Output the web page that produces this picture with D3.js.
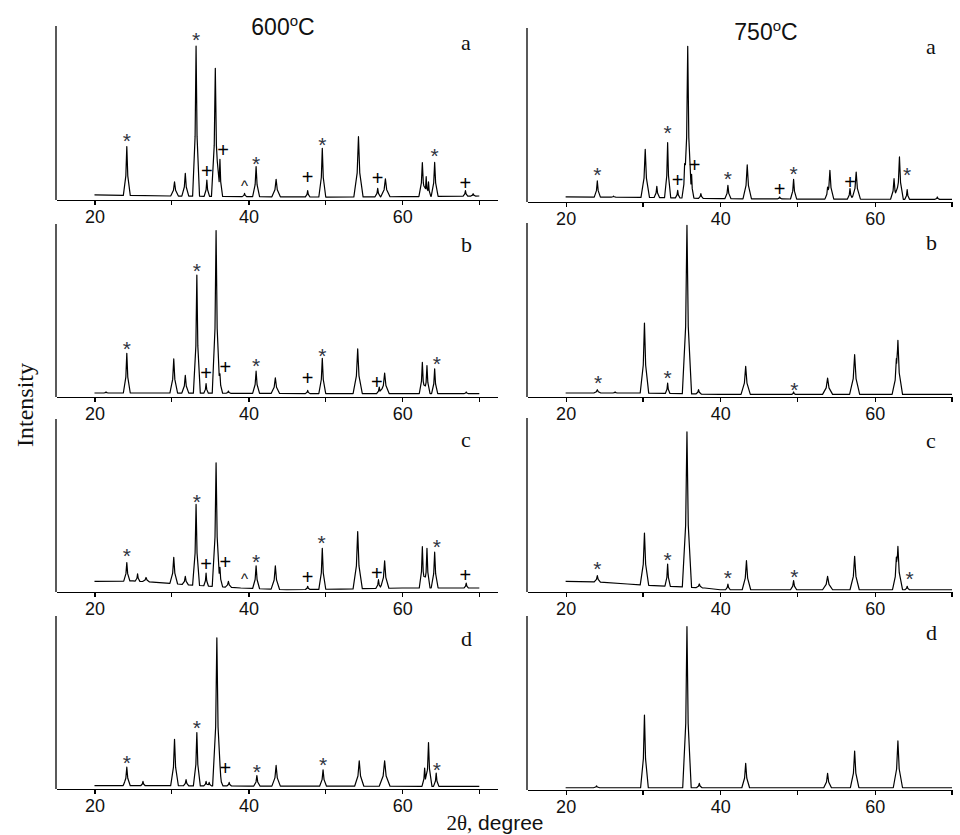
<!DOCTYPE html>
<html>
<head>
<meta charset="utf-8">
<script src="https://cdn.jsdelivr.net/npm/d3@7"></script>
<style>
  body { margin: 0; background: #fff; }
  svg { display: block; }
  .axis path, .axis line { stroke: #000; stroke-width: 1.2; shape-rendering: crispEdges; }
  .axis text { font-family: Arial, "Liberation Sans", sans-serif; font-size: 18px; fill: #111; }
  .trace { fill: none; stroke: #000; stroke-width: 1.2; stroke-linejoin: round; }
</style>
</head>
<body>
<svg id="chart" width="960" height="835"></svg>
<script>
// ---- data ----
const temps = ["600", "750"];
const samples = ["a", "b", "c", "d"];
const majorTicks = [20, 40, 60];
const minorTicks = [30, 50, 70];

// background level: [2θ, intensity %]
const bg600a = [[20, 2.9], [30, 2.3], [40, 1.9], [50, 1.7], [60, 1.9], [70, 2.3]];
const bg600b = [[20, 2.3], [30, 2.3], [40, 2.1], [50, 1.9], [70, 1.9]];
const bg600c = [[20, 6.1], [25, 6.4], [28, 5.6], [32, 4.2], [39, 2.3], [45, 1.3], [52, 1.7], [60, 2.3], [70, 2.3]];
const bg600d = [[20, 1.9], [30, 1.9], [40, 1.7], [70, 1.5]];
const bg750a = [[20, 2.9], [30, 2.7], [40, 1.9], [50, 1.7], [70, 1.5]];
const bg750b = [[20, 2.3], [30, 2.3], [40, 1.5], [70, 1.5]];
const bg750c = [[20, 6.1], [24, 5.8], [28, 4.6], [30, 4.0], [38, 2.3], [40, 1.3], [70, 1.3]];
const bg750d = [[20, 1.3], [70, 1.3]];

// peaks: [2θ, apex intensity %, half base width in degrees]
const pk600a = [[24.2, 30.7, 0.45], [30.4, 10.5, 0.5], [31.8, 15.3, 0.45], [33.2, 88.5, 0.45], [34.6, 11.5, 0.35],
  [35.7, 75.7, 0.5], [36.3, 23.4, 0.35], [39.5, 3.8, 0.3], [41.0, 19.2, 0.45], [43.6, 11.9, 0.55],
  [47.7, 5.4, 0.3], [49.6, 29.7, 0.45], [54.3, 36.4, 0.6], [56.8, 6.7, 0.35], [57.8, 12.1, 0.6],
  [62.6, 21.5, 0.45], [63.1, 13.4, 0.3], [63.4, 10.5, 0.3], [64.2, 21.6, 0.45], [68.2, 5.4, 0.3], [69.2, 3.6, 0.3]];
const pk600b = [[21.5, 2.9, 0.3], [24.2, 25.3, 0.45], [30.3, 22.0, 0.5], [31.8, 12.5, 0.45], [33.3, 70.5, 0.45],
  [34.5, 7.7, 0.3], [35.8, 96.2, 0.5], [36.3, 13.4, 0.35], [37.4, 3.4, 0.3], [41.0, 14.9, 0.45],
  [43.5, 11.1, 0.55], [47.7, 3.8, 0.3], [49.6, 22.4, 0.45], [54.2, 27.8, 0.6], [57.0, 5.7, 0.35],
  [57.7, 13.8, 0.6], [62.6, 20.1, 0.4], [63.2, 18.2, 0.4], [64.2, 16.3, 0.4], [68.3, 2.9, 0.3]];
const pk600c = [[24.2, 17.0, 0.4], [25.6, 10.5, 0.3], [26.7, 8.4, 0.45], [30.3, 20.1, 0.5], [31.8, 9.0, 0.4],
  [33.2, 50.6, 0.45], [34.5, 10.9, 0.3], [35.8, 74.7, 0.5], [36.3, 14.2, 0.35], [37.4, 6.1, 0.4],
  [41.0, 15.1, 0.45], [43.5, 15.1, 0.55], [47.7, 3.3, 0.3], [49.6, 25.3, 0.45], [54.2, 34.9, 0.6],
  [56.9, 7.1, 0.35], [57.7, 18.0, 0.55], [62.6, 26.2, 0.4], [63.2, 25.3, 0.4], [64.2, 23.0, 0.45], [68.3, 5.2, 0.3]];
const pk600d = [[24.0, 5.0, 0.3], [24.2, 12.6, 0.45], [26.3, 4.4, 0.3], [30.4, 28.7, 0.5], [31.9, 5.4, 0.35],
  [33.3, 32.6, 0.45], [34.5, 4.4, 0.3], [34.9, 3.8, 0.3], [35.9, 87.4, 0.55], [36.4, 7.3, 0.3],
  [37.5, 3.8, 0.3], [41.1, 7.7, 0.4], [43.6, 13.6, 0.55], [49.7, 11.1, 0.45], [54.4, 16.3, 0.6],
  [57.7, 16.3, 0.7], [62.9, 12.1, 0.35], [63.4, 26.8, 0.45], [64.4, 9.2, 0.35]];
const pk750a = [[24.1, 12.1, 0.4], [26.2, 3.4, 0.3], [30.3, 30.3, 0.55], [31.8, 9.0, 0.35], [33.2, 34.1, 0.4],
  [34.5, 6.7, 0.3], [35.4, 22.0, 0.35], [35.8, 89.5, 0.5], [36.3, 15.9, 0.3], [37.5, 4.8, 0.3],
  [41.0, 9.6, 0.4], [43.5, 21.3, 0.55], [47.7, 2.9, 0.3], [49.5, 13.0, 0.4], [53.9, 8.6, 0.35],
  [54.2, 18.2, 0.5], [56.8, 7.7, 0.35], [57.6, 17.2, 0.55], [62.5, 13.4, 0.45], [63.2, 25.9, 0.5],
  [64.2, 7.1, 0.3], [68.1, 2.9, 0.3]];
const pk750b = [[24.1, 4.2, 0.45], [26.4, 2.9, 0.3], [30.2, 42.5, 0.55], [33.2, 8.0, 0.3], [35.7, 98.7, 0.6],
  [37.2, 4.2, 0.35], [43.3, 17.6, 0.6], [49.5, 2.9, 0.25], [53.9, 10.9, 0.65], [57.4, 24.3, 0.65],
  [62.8, 22.0, 0.55], [63.0, 32.6, 0.6]];
const pk750c = [[24.1, 9.4, 0.4], [30.2, 33.9, 0.55], [33.2, 16.1, 0.35], [35.7, 92.0, 0.6], [37.3, 4.6, 0.4],
  [41.0, 4.6, 0.3], [43.4, 18.0, 0.55], [49.5, 6.5, 0.4], [53.9, 9.0, 0.65], [57.4, 20.5, 0.6],
  [62.8, 20.0, 0.5], [63.0, 26.2, 0.6], [64.2, 3.3, 0.3]];
const pk750d = [[24.0, 2.3, 0.4], [30.2, 43.1, 0.5], [35.7, 93.9, 0.55], [37.3, 3.8, 0.35], [43.3, 15.3, 0.5],
  [53.9, 9.6, 0.5], [57.4, 22.4, 0.55], [63.0, 28.2, 0.6]];

// phase markers: [2θ, symbol, height %]
const mk600a = [[24.2, "*", 37], [33.2, "*", 95], [34.6, "+", 17], [36.7, "+", 29], [39.5, "^", 9.5],
  [41.0, "*", 23.5], [47.7, "+", 13.5], [49.6, "*", 34.5], [56.8, "+", 12.5], [64.2, "*", 28], [68.2, "+", 10]];
const mk600b = [[24.2, "*", 30.7], [33.3, "*", 75.7], [34.5, "+", 13.8], [37.0, "+", 17.2], [41.0, "*", 20.7],
  [47.7, "+", 10.9], [49.6, "*", 26.8], [56.7, "+", 9.0], [64.5, "*", 22.0]];
const mk600c = [[24.2, "*", 23.4], [33.3, "*", 55.0], [34.5, "+", 16.1], [37.0, "+", 17.2], [39.5, "^", 9.0],
  [41.0, "*", 20.5], [47.7, "+", 9.0], [49.5, "*", 31.0], [56.7, "+", 10.9], [64.5, "*", 29.1], [68.2, "+", 10.0]];
const mk600d = [[24.2, "*", 17.8], [33.3, "*", 38.3], [37.0, "+", 12.5], [41.1, "*", 12.5], [49.7, "*", 16.5],
  [64.5, "*", 14.0]];
const mk750a = [[24.1, "*", 18.6], [33.2, "*", 42.5], [34.5, "+", 12.5], [36.7, "+", 21.5], [41.0, "*", 15.9],
  [47.7, "+", 7.7], [49.5, "*", 19.2], [56.8, "+", 11.5], [64.2, "*", 18.6]];
const mk750b = [[24.2, "*", 10.9], [33.2, "*", 13.8], [49.6, "*", 6.7]];
const mk750c = [[24.1, "*", 16.1], [33.2, "*", 21.5], [41.0, "*", 10.9], [49.6, "*", 11.5], [64.5, "*", 10.3]];
const mk750d = [];

const backgrounds = [[bg600a, bg600b, bg600c, bg600d], [bg750a, bg750b, bg750c, bg750d]];
const peakSets = [[pk600a, pk600b, pk600c, pk600d], [pk750a, pk750b, pk750c, pk750d]];
const markerSets = [[mk600a, mk600b, mk600c, mk600d], [mk750a, mk750b, mk750c, mk750d]];

// ---- layout ----
const colRange = [[56, 497], [527, 952]];
const colDomain = [[15, 72.3], [15, 70]];
const rowTop = [[26, 224, 419, 616], [28, 223, 418, 616]];
const rowBase = [[200, 397, 592, 789], [202, 397, 592, 790]];
const labelX = [461, 926];
const labelY = [[50, 252, 447, 646], [54, 250, 448, 640]];

const svg = d3.select("#chart");

// peak drawn as a narrow spike: feet at ±w, flank point at ±0.28w / 40% height
function peakAt(p, t, bgf) {
  const [c, h, w] = p;
  const d = Math.abs(t - c);
  if (d >= w) return -Infinity;
  const b = bgf(c);
  const s = 0.28 * w, mid = b + 0.4 * (h - b);
  if (d <= s) return h + (mid - h) * (d / s);
  return mid + (bgf(t) - mid) * ((d - s) / (w - s));
}

function tracePoints(bg, peaks) {
  const bgf = d3.scaleLinear().domain(bg.map(d => d[0])).range(bg.map(d => d[1])).clamp(true);
  let ts = bg.map(d => d[0]);
  peaks.forEach(([c, , w]) => { ts.push(c - w, c - 0.28 * w, c, c + 0.28 * w, c + w); });
  ts = Array.from(new Set(ts.map(t => +t.toFixed(4)))).filter(t => t >= 20 && t <= 70).sort((a, b) => a - b);
  return ts.map(t => [t, Math.max(bgf(t), d3.max(peaks, p => peakAt(p, t, bgf)))]);
}

const markStyle = {
  "*": { size: 21, weight: "normal", k: 0.57, color: "#2f3340" },
  "+": { size: 20, weight: "normal", k: 0.36, color: "#000" },
  "^": { size: 15, weight: "normal", k: 0.52, color: "#111" }
};

temps.forEach((temp, ci) => {
  samples.forEach((lab, ri) => {
    const x = d3.scaleLinear().domain(colDomain[ci]).range(colRange[ci]);
    const y = d3.scaleLinear().domain([0, 100]).range([rowBase[ci][ri], rowTop[ci][ri]]);
    const g = svg.append("g");

    // x axis: labelled major ticks, unlabelled minor ticks
    const ax = g.append("g").attr("class", "axis")
      .attr("transform", `translate(0,${rowBase[ci][ri]})`)
      .call(d3.axisBottom(x).tickValues(majorTicks).tickSize(5).tickPadding(5).tickSizeOuter(0));
    ax.selectAll(".minor").data(minorTicks.filter(t => t <= colDomain[ci][1]))
      .join("line").attr("class", "minor")
      .attr("x1", d => x(d)).attr("x2", d => x(d)).attr("y1", 0).attr("y2", 5);

    // y axis: bare line
    g.append("line").attr("class", "axis-line")
      .attr("x1", colRange[ci][0]).attr("x2", colRange[ci][0])
      .attr("y1", y(100)).attr("y2", y(0))
      .attr("stroke", "#000").attr("stroke-width", 1.3);

    const pts = tracePoints(backgrounds[ci][ri], peakSets[ci][ri]);
    g.append("path").attr("class", "trace")
      .attr("d", d3.line().x(d => x(d[0])).y(d => y(d[1]))(pts));

    g.selectAll(".mk").data(markerSets[ci][ri]).join("text")
      .attr("class", "mk")
      .attr("x", d => x(d[0]))
      .attr("y", d => y(d[2]) + markStyle[d[1]].k * markStyle[d[1]].size)
      .attr("text-anchor", "middle")
      .attr("font-family", "Arial, 'Liberation Sans', sans-serif")
      .attr("font-size", d => markStyle[d[1]].size)
      .attr("font-weight", d => markStyle[d[1]].weight)
      .attr("fill", d => markStyle[d[1]].color)
      .text(d => d[1]);

    g.append("text")
      .attr("x", labelX[ci]).attr("y", labelY[ci][ri])
      .attr("font-family", "'Liberation Serif', 'Times New Roman', serif")
      .attr("font-size", 22).attr("fill", "#111")
      .text(lab);
  });
});

// column titles
const titleX = [283, 766], titleY = [35, 40];
temps.forEach((t, ci) => {
  const tt = svg.append("text")
    .attr("x", titleX[ci]).attr("y", titleY[ci])
    .attr("text-anchor", "middle")
    .attr("font-family", "Arial, 'Liberation Sans', sans-serif")
    .attr("font-size", 23).attr("fill", "#111");
  tt.append("tspan").text(t);
  tt.append("tspan").attr("font-size", 15).attr("dy", -9).text("o");
  tt.append("tspan").attr("dy", 9).text("C");
});

svg.append("text")
  .attr("transform", "translate(33,405) rotate(-90)")
  .attr("text-anchor", "middle")
  .attr("font-family", "'Liberation Serif', 'Times New Roman', serif")
  .attr("font-size", 24).attr("fill", "#111")
  .text("Intensity");

const xl = svg.append("text")
  .attr("x", 495).attr("y", 830)
  .attr("text-anchor", "middle")
  .attr("font-size", 21).attr("fill", "#111");
xl.append("tspan").attr("font-family", "'Liberation Serif', 'Times New Roman', serif").text("2θ,");
xl.append("tspan").attr("font-family", "Arial, 'Liberation Sans', sans-serif").text(" degree");
</script>
</body>
</html>
